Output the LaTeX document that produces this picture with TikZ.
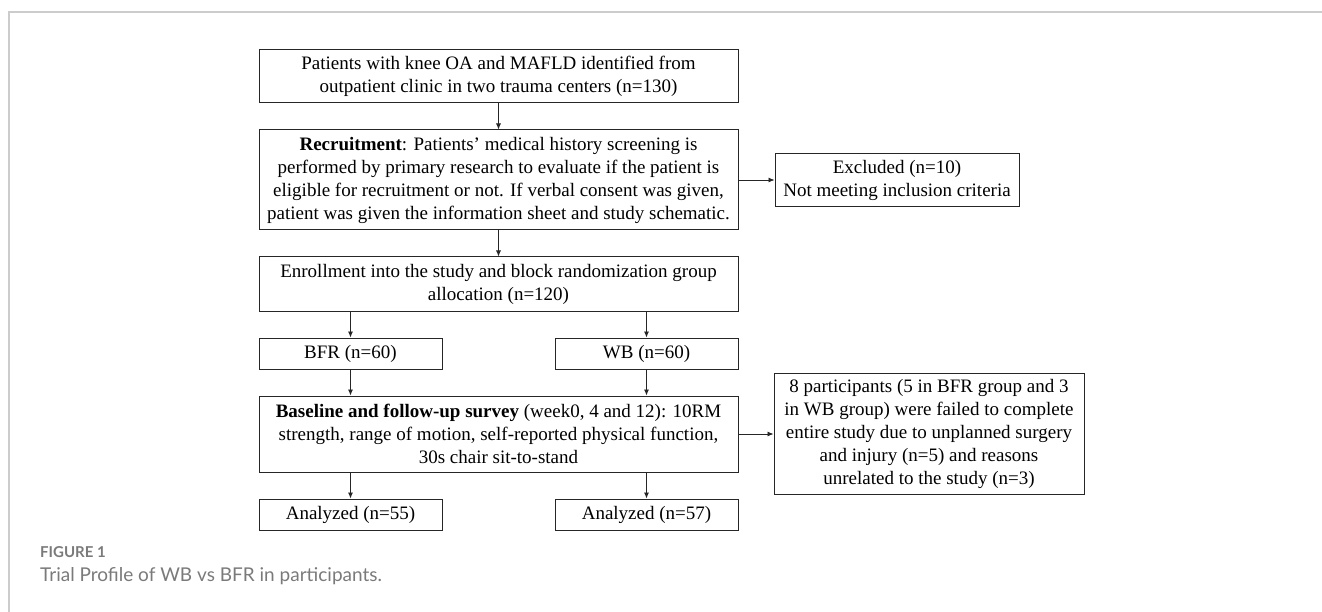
\documentclass[tikz,border=0pt]{standalone}
\usepackage{fontspec}
\setmainfont{Liberation Serif}
\newfontfamily\capfont{Lato}
\usepackage{tikz}
\usetikzlibrary{arrows.meta,positioning}
\definecolor{Ink}{HTML}{262626}
\definecolor{Frame}{HTML}{CCCCCC}
\definecolor{CapGray}{HTML}{7A7A7A}
\newcommand\boxfont{\fontsize{19}{23}\selectfont}
\tikzset{
  arr/.style={-{Latex[length=6pt,width=5pt]},line width=0.8pt,draw=Ink},
  flowbox/.style={draw=Ink,line width=1pt,fill=white,align=center,inner sep=3pt,font=\boxfont},
  armbox/.style={flowbox,minimum width=183pt,minimum height=31pt}
}

\begin{document}
\begin{tikzpicture}[x=1pt,y=-1pt,node distance=26pt]
  \useasboundingbox (0,0) rectangle (1322,612);
  \draw[Frame,line width=1.5pt] (9,612) -- (9,12) -- (1322,12);
  \node[flowbox,minimum width=479pt,minimum height=53pt] (pool) at (498.5,76.5) {Patients with knee OA and MAFLD identified from\\outpatient clinic in two trauma centers (n=130)};
  \node[flowbox,below=of pool,minimum width=479pt,minimum height=100pt] (recruit) {\textbf{Recruitment}: Patients' medical history screening is\\performed by primary research to evaluate if the patient is\\eligible for recruitment or not. If verbal consent was given,\\patient was given the information sheet and study schematic.};
  \node[flowbox,right=36pt of recruit,minimum width=244pt,minimum height=53pt] (excl) {Excluded (n=10)\\Not meeting inclusion criteria};
  \node[flowbox,below=of recruit,minimum width=479pt,minimum height=54pt] (enroll) {Enrollment into the study and block randomization group\\allocation (n=120)};
  \node[armbox,below=of enroll.south west,anchor=north west] (bfr) {BFR (n=60)};
  \node[armbox,below=of enroll.south east,anchor=north east] (wb) {WB (n=60)};
  \node[flowbox,below=27pt of enroll,yshift=-57pt,minimum width=479pt,minimum height=76pt] (survey) {\textbf{Baseline and follow-up survey} (week0, 4 and 12): 10RM\\strength, range of motion, self-reported physical function,\\30s chair sit-to-stand};
  \node[flowbox,right=35pt of survey,minimum width=310pt,minimum height=121pt] (drop) {8 participants (5 in BFR group and 3\\in WB group) were failed to complete\\entire study due to unplanned surgery\\and injury (n=5) and reasons\\unrelated to the study (n=3)};
  \node[armbox,below=of survey.south west,anchor=north west] (anbfr) {Analyzed (n=55)};
  \node[armbox,below=of survey.south east,anchor=north east] (anwb) {Analyzed (n=57)};
  \draw[arr] (pool)--(recruit); \draw[arr] (recruit)--(excl); \draw[arr] (recruit)--(enroll);
  \draw[arr] (enroll.south -| bfr) -- (bfr); \draw[arr] (enroll.south -| wb) -- (wb);
  \draw[arr] (bfr) -- (survey.north -| bfr); \draw[arr] (wb) -- (survey.north -| wb);
  \draw[arr] (survey)--(drop);
  \draw[arr] (survey.south -| anbfr) -- (anbfr); \draw[arr] (survey.south -| anwb) -- (anwb);
  % caption
  \node[anchor=base west,inner sep=0pt,text=CapGray,font=\capfont\bfseries\fontsize{15}{17}\selectfont] (figno) at (40,557) {FIGURE 1};
  \node[anchor=base west,inner sep=0pt,text=CapGray,font=\capfont\fontsize{19}{22}\selectfont] (figcap) at (40,581) {Trial Profile of WB vs BFR in participants.};
\end{tikzpicture}
\end{document}
